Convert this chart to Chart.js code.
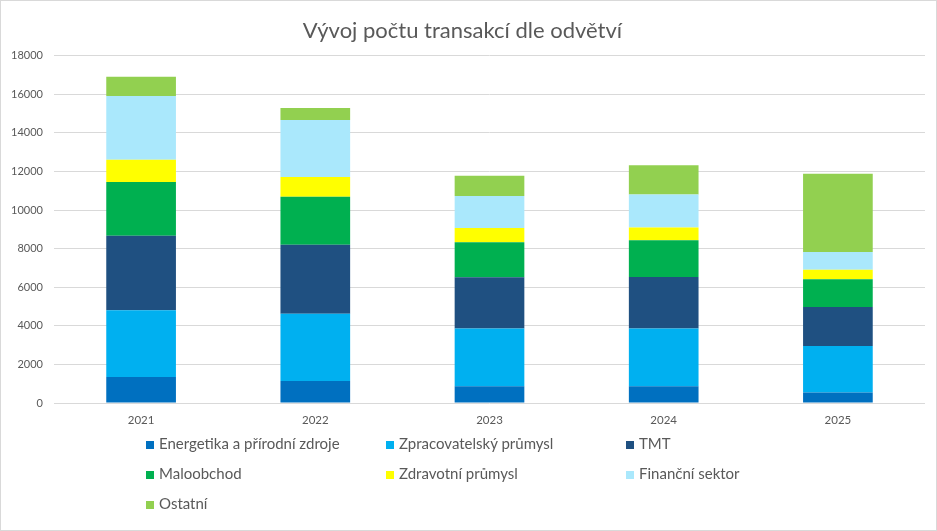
<!DOCTYPE html>
<html>
<head>
<meta charset="utf-8">
<script src="https://cdn.jsdelivr.net/npm/chart.js@4"></script>
<style>
  html, body { margin:0; padding:0; background:#fff; }
  #wrap { position:relative; width:937px; height:531px; }
  #frame { position:absolute; left:0; top:0; width:937px; height:531px; box-sizing:border-box; border:1px solid #d9d9d9; pointer-events:none; }
  #legend { position:absolute; left:0; top:0; width:937px; height:531px; pointer-events:none; font-family:Lato, "Open Sans", sans-serif; font-size:15px; color:#595959; }
  .li { position:absolute; white-space:nowrap; line-height:18px; }
  .li span.box { display:inline-block; width:8px; height:8px; margin-right:5px; vertical-align:0px; }
</style>
</head>
<body>
<div id="wrap">
  <canvas id="c" width="937" height="531"></canvas>
  <div id="legend"></div>
  <div id="frame"></div>
</div>
<script>
const categories = ["2021", "2022", "2023", "2024", "2025"];
const seriesNames = ["Energetika a přírodní zdroje", "Zpracovatelský průmysl", "TMT", "Maloobchod", "Zdravotní průmysl", "Finanční sektor", "Ostatní"];
const energetika = [1350, 1140, 865, 865, 550];
const zpracovatelsky = [3460, 3480, 2990, 2990, 2400];
const tmt = [3860, 3580, 2660, 2680, 2020];
const maloobchod = [2780, 2490, 1820, 1900, 1450];
const zdravotni = [1160, 1020, 730, 660, 480];
const financni = [3300, 2960, 1660, 1710, 920];
const ostatni = [1000, 620, 1050, 1520, 4060];
const yTicks = [0, 2000, 4000, 6000, 8000, 10000, 12000, 14000, 16000, 18000];
const colors = ["#0070C0", "#00B0F0", "#1F5081", "#00B050", "#FFFF00", "#AAE8FC", "#92D050"];

const values = [energetika, zpracovatelsky, tmt, maloobchod, zdravotni, financni, ostatni];
const datasets = seriesNames.map((n, i) => ({
  label: n,
  data: values[i],
  backgroundColor: colors[i],
  borderWidth: 0,
  categoryPercentage: 0.8,
  barPercentage: 0.5
}));

const FONT = "Lato";
new Chart(document.getElementById('c'), {
  type: 'bar',
  data: { labels: categories, datasets },
  options: {
    responsive: false,
    animation: false,
    layout: { padding: { left: 0, right: 12, top: 0, bottom: 98 } },
    plugins: {
      legend: { display: false },
      tooltip: { enabled: false },
      title: {
        display: true,
        text: "Vývoj počtu transakcí dle odvětví",
        color: "#595959",
        font: { family: FONT, size: 22, weight: 'normal', lineHeight: 1.2 },
        padding: { top: 18, bottom: 11.3 }
      }
    },
    scales: {
      x: {
        stacked: true,
        grid: { display: false, drawTicks: false },
        border: { display: false },
        ticks: { color: "#595959", font: { family: FONT, size: 11.5 }, padding: 10 },
        afterFit(s) { s.height = 30; }
      },
      y: {
        stacked: true,
        min: 0, max: 18000,
        afterBuildTicks(s) { s.ticks = yTicks.map(v => ({ value: v })); },
        grid: { color: "#d9d9d9", lineWidth: 1, drawTicks: false },
        border: { display: false },
        ticks: { color: "#595959", font: { family: FONT, size: 11 }, padding: 11, callback: v => String(v) },
        afterFit(s) { s.width = 54; }
      }
    }
  }
});

// HTML legend, 3 columns
const legend = document.getElementById('legend');
const colX = [146, 386, 626];
const rowY = [443, 473, 503];
seriesNames.forEach((n, i) => {
  const d = document.createElement('div');
  d.className = 'li';
  d.style.left = colX[i % 3] + 'px';
  d.style.top = (rowY[Math.floor(i / 3)] - 9) + 'px';
  const b = document.createElement('span');
  b.className = 'box';
  b.style.background = colors[i];
  d.appendChild(b);
  d.appendChild(document.createTextNode(n));
  legend.appendChild(d);
});
</script>
</body>
</html>
